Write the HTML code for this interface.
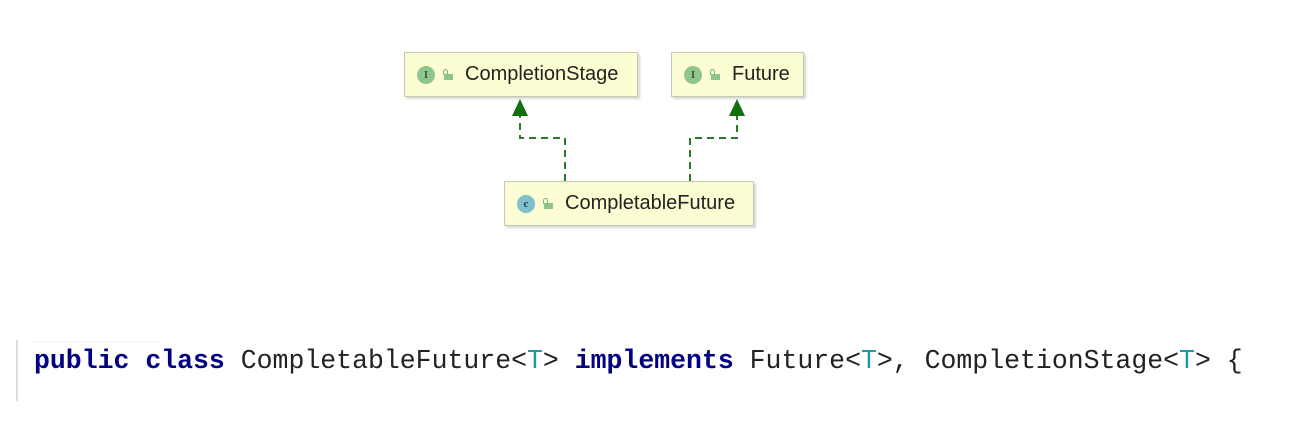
<!DOCTYPE html>
<html><head><meta charset="utf-8"><style>
body{margin:0;width:1290px;height:421px;background:#fff;position:relative;overflow:hidden;font-family:"Liberation Sans",sans-serif}
.box{position:absolute;height:43px;background:#fdfdd3;border:1px solid #c9c9b0;box-shadow:2px 2px 2px #d8d8d8;display:flex;align-items:center;font-size:20px;color:#222}
.ic{width:18px;height:18px;border-radius:50%;display:inline-flex;align-items:center;justify-content:center;font-size:11px;font-weight:bold;margin-left:12px;margin-right:8px;font-family:"Liberation Serif",serif}
.lk{position:relative;width:10px;height:12px;margin-right:12px;display:inline-block}
.lk:before{content:"";position:absolute;left:0;top:0;width:3px;height:5px;border:1.5px solid #7ab87a;border-bottom:none;border-radius:3px 3px 0 0}
.lk:after{content:"";position:absolute;left:1px;top:5px;width:9px;height:6px;background:#8cc48c}
.code{position:absolute;left:34px;top:346px;font-family:"Liberation Mono",monospace;font-size:26.5px;color:#222;white-space:pre}
.k{color:#000080;font-weight:bold}.t{color:#20999d}
</style></head><body>
<div class="box" style="left:404px;top:52px;width:232px"><span class="ic" style="background:#8fc58f;color:#3a5a3a">I</span><span class="lk"></span>CompletionStage</div>
<div class="box" style="left:671px;top:52px;width:131px"><span class="ic" style="background:#8fc58f;color:#3a5a3a">I</span><span class="lk"></span>Future</div>
<div class="box" style="left:504px;top:181px;width:248px"><span class="ic" style="background:#7fbfd0;color:#234">c</span><span class="lk"></span>CompletableFuture</div>
<svg width="1290" height="421" style="position:absolute;left:0;top:0">
<g fill="none" stroke="#2a7a2a" stroke-width="2" stroke-dasharray="7,5">
<path d="M565 181V138H520V112"/><path d="M690 181V138H737V112"/></g>
<polygon points="520,99 512,116 528,116" fill="#107010"/>
<polygon points="737,99 729,116 745,116" fill="#107010"/>
<line x1="17" y1="340" x2="17" y2="401" stroke="#ddd" stroke-width="2"/>
<line x1="33" y1="342" x2="160" y2="342" stroke="#eef2ee" stroke-width="1"/>
</svg>
<div class="code"><span class="k">public class</span> CompletableFuture&lt;<span class="t">T</span>&gt; <span class="k">implements</span> Future&lt;<span class="t">T</span>&gt;, CompletionStage&lt;<span class="t">T</span>&gt; {</div>
</body></html>
